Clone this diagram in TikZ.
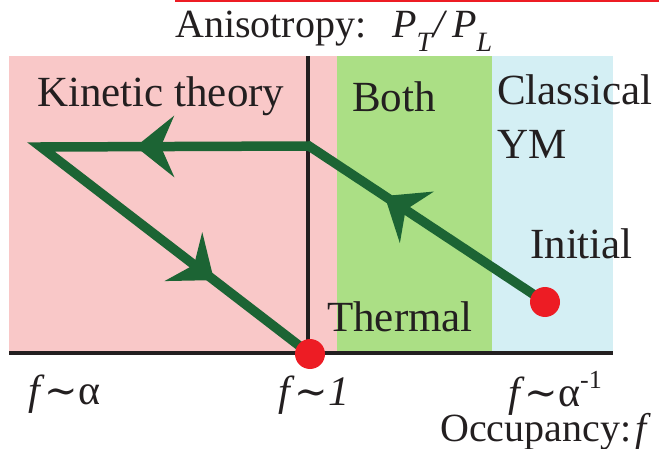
\documentclass[tikz,border=0pt]{standalone}
\usepackage{fontspec}
\setmainfont{Liberation Serif}
\newfontfamily\tildefont{DejaVu Serif}
\usetikzlibrary{arrows.meta,decorations.markings}
\definecolor{pinkbg}{RGB}{249,200,200}
\definecolor{greenbg}{RGB}{171,223,133}
\definecolor{cyanbg}{RGB}{212,239,244}
\definecolor{pathgreen}{RGB}{28,100,52}
\definecolor{dotred}{RGB}{237,28,36}
\definecolor{axisblack}{RGB}{35,31,32}
\newcommand{\subsz}[1]{\raisebox{-0.35em}{\fontsize{28}{28}\selectfont\textit{#1}}}
\newcommand{\tld}{{\tildefont\fontsize{40}{40}\selectfont ∼}}
\begin{document}
\begin{tikzpicture}[x=1pt,y=-1pt,
  lab/.style={font=\fontsize{43}{43}\selectfont, inner sep=0pt, anchor=base west, text=axisblack},
  axlab/.style={font=\fontsize{40}{40}\selectfont, inner sep=0pt, anchor=base west, text=axisblack},
  flab/.style={font=\fontsize{42}{42}\selectfont, inner sep=0pt, anchor=base west, text=axisblack},
  dot/.style={circle, fill=dotred, minimum size=30pt, inner sep=0pt},
  flow/.style={draw=pathgreen, line width=9.5pt, line join=miter},
  axisline/.style={draw=axisblack, line width=3.5pt},
  midtip/.style={decoration={markings,
     mark=at position 185pt with {\arrow{Stealth[length=20pt,width=32pt,inset=7pt]}},
     mark=at position 449pt with {\arrow{Stealth[length=20pt,width=32pt,inset=7pt]}},
     mark=at position 762pt with {\arrow{Stealth[length=20pt,width=32pt,inset=7pt]}}},
     postaction={decorate, color=pathgreen, line width=0.5pt}}
]
\useasboundingbox (0,0) rectangle (659,449);
% top red line
\draw[dotred, line width=2pt] (175,1) -- (659,1);
% regions
\fill[pinkbg] (9,56) rectangle (337,353);
\fill[greenbg] (337,56) rectangle (492,353);
\fill[cyanbg] (492,56) rectangle (613,353);
% axes
\coordinate (vtop) at (308,56);
\coordinate (vbot) at (308,353);
\coordinate (ax0) at (9,353);
\coordinate (ax1) at (613,353);
\draw[axisline] (vtop) -- (vbot);
\draw[axisline] (ax0) -- (ax1);
% path
\coordinate (init) at (545,302);
\coordinate (c1) at (309,146);
\coordinate (c2) at (41,147);
\coordinate (therm) at (310,354);
\draw[flow, midtip] (init) -- (c1) -- (c2) -- (therm);
\node[dot] (initdot) at (init) {};
\node[dot] (thermdot) at (therm) {};
% labels
\node[axlab] (aniso) at (175,38) {Anisotropy:\hspace{26pt}\textit{P}\subsz{T}\textit{/}\hspace{4pt}\textit{P}\subsz{L}};
\node[lab] (kin) at (37,107) {Kinetic theory};
\node[lab] (both) at (352,112) {Both};
\node[lab] (class) at (497,105) {Classical};
\node[lab] (ym) at (497,159) {YM};
\node[lab] (initlab) at (530,259) {Initial};
\node[lab] (thermlab) at (327,331) {Thermal};
\node[flab] (fa) at (28,404) {\textit{f}\tld α};
\node[flab] (f1) at (278,405) {\textit{f}\tld\textit{1}};
\node[flab] (fai) at (508,406) {\textit{f}\tld α\raisebox{0.42em}{\fontsize{26}{26}\selectfont -1}};
\node[axlab] (occ) at (440,441) {Occupancy:\hspace{4pt}\textit{f}};
\end{tikzpicture}
\end{document}
